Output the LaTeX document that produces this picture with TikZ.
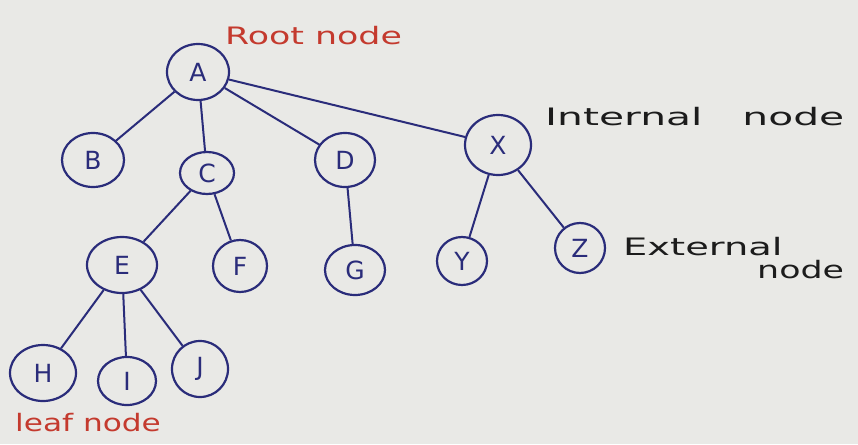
\documentclass[tikz,border=0pt]{standalone}
\usepackage{fontspec}
\setmainfont{DejaVu Sans}
\usetikzlibrary{shapes.geometric}
\definecolor{paper}{RGB}{233,233,230}
\definecolor{ink}{RGB}{42,44,122}
\definecolor{redink}{RGB}{196,58,46}
\definecolor{blackink}{RGB}{28,28,28}
\begin{document}
\begin{tikzpicture}[x=1pt,y=-1pt,
  tnode/.style={ellipse, draw=ink, line width=2.2pt, text=ink, inner sep=0pt,
    font=\fontsize{25}{27}\selectfont},
  edge/.style={draw=ink, line width=2pt},
  lbl/.style={font=\fontsize{24}{26}\selectfont, inner sep=0pt, anchor=west}]
\fill[paper] (0,0) rectangle (858,444);
\useasboundingbox (0,0) rectangle (858,444);
% tree nodes
\node[tnode, minimum width=62pt, minimum height=56pt] (A) at (198,72) {A};
\node[tnode, minimum width=62pt, minimum height=54pt] (B) at (93,160) {B};
\node[tnode, minimum width=54pt, minimum height=42pt] (C) at (207,173) {C};
\node[tnode, minimum width=60pt, minimum height=54pt] (D) at (345,160) {D};
\node[tnode, minimum width=66pt, minimum height=60pt] (X) at (498,145) {X};
\node[tnode, minimum width=70pt, minimum height=56pt] (E) at (122,265) {E};
\node[tnode, minimum width=54pt, minimum height=52pt] (F) at (240,266) {F};
\node[tnode, minimum width=60pt, minimum height=50pt] (G) at (355,270) {G};
\node[tnode, minimum width=50pt, minimum height=48pt] (Y) at (462,261) {Y};
\node[tnode, minimum width=50pt, minimum height=50pt] (Z) at (580,248) {Z};
\node[tnode, minimum width=66pt, minimum height=56pt] (H) at (43,373) {H};
\node[tnode, minimum width=58pt, minimum height=48pt] (I) at (127,381) {I};
\node[tnode, minimum width=56pt, minimum height=56pt] (J) at (200,369) {J};
% connectors
\draw[edge] (A) -- (B);
\draw[edge] (A) -- (C);
\draw[edge] (A) -- (D);
\draw[edge] (A) -- (X);
\draw[edge] (C) -- (E);
\draw[edge] (C) -- (F);
\draw[edge] (D) -- (G);
\draw[edge] (X) -- (Y);
\draw[edge] (X) -- (Z);
\draw[edge] (E) -- (H);
\draw[edge] (E) -- (I);
\draw[edge] (E) -- (J);
% labels
\node[lbl, text=redink] (root) at (225,36) {\scalebox{1.45}[1]{Root node}};
\node[lbl, text=blackink] (internal) at (545,117) {\scalebox{1.7}[1]{Internal}\hspace{40pt}\scalebox{1.7}[1]{node}};
\node[lbl, text=blackink] (external) at (623,247) {\scalebox{1.6}[1]{External}};
\node[lbl, text=blackink] (extnode) at (757,270) {\scalebox{1.45}[1]{node}};
\node[lbl, text=redink] (leaf) at (15,423) {\scalebox{1.3}[1]{leaf node}};
\end{tikzpicture}
\end{document}
